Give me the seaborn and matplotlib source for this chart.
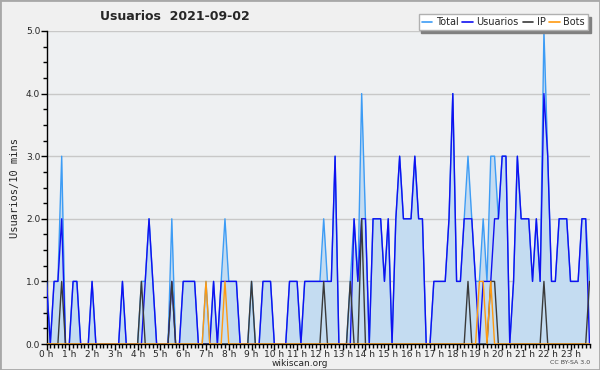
import pandas as pd
import matplotlib
matplotlib.use("Agg")
import matplotlib.pyplot as plt
import seaborn as sns
from matplotlib.ticker import MultipleLocator, FixedLocator, FormatStrFormatter
from matplotlib.patches import Rectangle

# ================= datos (intervalos de 10 min) =================
hour_labels = [f"{h} h" for h in range(24)]

total = [
    1, 0, 1, 1, 3, 0, 0, 1, 1, 0, 0, 0,
    1, 0, 0, 0, 0, 0, 0, 0, 1, 0, 0, 0,
    0, 1, 1, 2, 1, 0, 0, 0, 0, 2, 0, 0,
    1, 1, 1, 1, 0, 0, 1, 0, 1, 0, 1, 2,
    1, 1, 1, 0, 0, 0, 1, 0, 0, 1, 1, 1,
    0, 0, 0, 0, 1, 1, 1, 0, 1, 1, 1, 1,
    1, 2, 1, 1, 3, 0, 0, 0, 1, 2, 1, 4,
    2, 0, 2, 2, 2, 1, 2, 0, 2, 3, 2, 2,
    2, 3, 2, 2, 0, 0, 1, 1, 1, 1, 2, 4,
    1, 1, 2, 3, 2, 1, 1, 2, 1, 3, 3, 2,
    3, 3, 0, 1, 3, 2, 2, 2, 1, 2, 1, 5,
    3, 1, 1, 2, 2, 2, 1, 1, 1, 2, 2, 1,
]

usuarios = [
    1, 0, 1, 1, 2, 0, 0, 1, 1, 0, 0, 0,
    1, 0, 0, 0, 0, 0, 0, 0, 1, 0, 0, 0,
    0, 0, 1, 2, 1, 0, 0, 0, 0, 1, 0, 0,
    1, 1, 1, 1, 0, 0, 0, 0, 1, 0, 1, 1,
    1, 1, 1, 0, 0, 0, 0, 0, 0, 1, 1, 1,
    0, 0, 0, 0, 1, 1, 1, 0, 1, 1, 1, 1,
    1, 1, 1, 1, 3, 0, 0, 0, 0, 2, 1, 2,
    2, 0, 2, 2, 2, 1, 2, 0, 2, 3, 2, 2,
    2, 3, 2, 2, 0, 0, 1, 1, 1, 1, 2, 4,
    1, 1, 2, 2, 2, 1, 0, 1, 1, 1, 2, 2,
    3, 3, 0, 1, 3, 2, 2, 2, 1, 2, 1, 4,
    3, 1, 1, 2, 2, 2, 1, 1, 1, 2, 2, 0,
]

ip = [
    0, 0, 0, 0, 1, 0, 0, 0, 0, 0, 0, 0,
    0, 0, 0, 0, 0, 0, 0, 0, 0, 0, 0, 0,
    0, 1, 0, 0, 0, 0, 0, 0, 0, 1, 0, 0,
    0, 0, 0, 0, 0, 0, 0, 0, 0, 0, 0, 0,
    0, 0, 0, 0, 0, 0, 1, 0, 0, 0, 0, 0,
    0, 0, 0, 0, 0, 0, 0, 0, 0, 0, 0, 0,
    0, 1, 0, 0, 0, 0, 0, 0, 1, 0, 0, 2,
    0, 0, 0, 0, 0, 0, 0, 0, 0, 0, 0, 0,
    0, 0, 0, 0, 0, 0, 0, 0, 0, 0, 0, 0,
    0, 0, 0, 1, 0, 0, 0, 0, 0, 1, 1, 0,
    0, 0, 0, 0, 0, 0, 0, 0, 0, 0, 0, 1,
    0, 0, 0, 0, 0, 0, 0, 0, 0, 0, 0, 1,
]

bots = [
    0, 0, 0, 0, 0, 0, 0, 0, 0, 0, 0, 0,
    0, 0, 0, 0, 0, 0, 0, 0, 0, 0, 0, 0,
    0, 0, 0, 0, 0, 0, 0, 0, 0, 0, 0, 0,
    0, 0, 0, 0, 0, 0, 1, 0, 0, 0, 0, 1,
    0, 0, 0, 0, 0, 0, 0, 0, 0, 0, 0, 0,
    0, 0, 0, 0, 0, 0, 0, 0, 0, 0, 0, 0,
    0, 0, 0, 0, 0, 0, 0, 0, 0, 0, 0, 0,
    0, 0, 0, 0, 0, 0, 0, 0, 0, 0, 0, 0,
    0, 0, 0, 0, 0, 0, 0, 0, 0, 0, 0, 0,
    0, 0, 0, 0, 0, 0, 1, 1, 0, 1, 0, 0,
    0, 0, 0, 0, 0, 0, 0, 0, 0, 0, 0, 0,
    0, 0, 0, 0, 0, 0, 0, 0, 0, 0, 0, 0,
]

COLORS = {"Total": "#3d9cf5", "Usuarios": "#1010f0", "IP": "#3a3a3a", "Bots": "#ff9a10"}
FILL = "#c4dcf1"

# ================= estilo =================
sns.set_theme(style="white")
plt.rcParams["font.family"] = ["DejaVu Sans"]

df = pd.DataFrame({"slot": range(len(total)), "Total": total,
                   "Usuarios": usuarios, "IP": ip, "Bots": bots})
long = df.melt(id_vars="slot", var_name="serie", value_name="n")

fig = plt.figure(figsize=(6, 3.7), dpi=100, facecolor="#f0f0f0")
ax = fig.add_axes([46.5 / 600, 1 - 344 / 370, (589.5 - 46.5) / 600, (344 - 31) / 370])
ax.set_facecolor("#eef0f2")

ax.fill_between(df["slot"], df["Total"], 0, color=FILL, linewidth=0, zorder=1)
sns.lineplot(data=long, x="slot", y="n", hue="serie", palette=COLORS,
             hue_order=["Total", "Usuarios", "IP", "Bots"],
             linewidth=1.0, ax=ax, legend=False, zorder=3)

ax.set_xlim(0, len(total) - 1)
ax.set_ylim(0, 5)

# ejes y marcas
ax.xaxis.set_major_locator(FixedLocator(range(0, 144, 6)))
ax.xaxis.set_minor_locator(MultipleLocator(1))
ax.set_xticklabels(hour_labels)
ax.yaxis.set_major_locator(MultipleLocator(1))
ax.yaxis.set_minor_locator(MultipleLocator(0.25))
ax.yaxis.set_major_formatter(FormatStrFormatter("%.1f"))
ax.tick_params(axis="both", which="major", direction="out", length=4, width=1,
               color="black", labelsize=6.5, pad=0.5, left=True, bottom=True)
ax.tick_params(axis="both", which="minor", direction="out", length=3, width=1,
               color="black", left=True, bottom=True)
ax.grid(axis="y", color="#c8c8c8", linewidth=1)
ax.set_axisbelow(True)
for s in ["top", "right"]:
    ax.spines[s].set_visible(False)
for s in ["left", "bottom"]:
    ax.spines[s].set_color("black")
    ax.spines[s].set_linewidth(1)

ax.set_xlabel("")
ax.set_ylabel("Usuarios/10 mins", family="DejaVu Sans Mono", fontsize=7.5, labelpad=4)

# leyenda
handles = [plt.Line2D([], [], color=COLORS[k], linewidth=1.2) for k in COLORS]
leg = fig.legend(handles, list(COLORS), loc="upper right", ncol=4,
                 bbox_to_anchor=(588 / 600, 1 - 14 / 370), fontsize=7,
                 handlelength=1.1, handletextpad=0.35, columnspacing=0.4,
                 borderpad=0.3, borderaxespad=0, fancybox=False, framealpha=1,
                 edgecolor="#b0b0b0", shadow={"color": "#808080", "alpha": 1})
leg.get_frame().set_linewidth(1)

fig.text(100 / 600, 1 - 17 / 370, "Usuarios  2021-09-02", fontsize=9,
         fontweight="bold", va="center", ha="left")
fig.text(300 / 600, 1 - 363 / 370, "wikiscan.org", fontsize=6.5, ha="center", va="center")
fig.text(590 / 600, 1 - 363 / 370, "CC BY-SA 3.0", fontsize=4.5, ha="right",
         va="center", color="#444444")

fig.patches.append(Rectangle((0, 0), 1, 1, transform=fig.transFigure, fill=False,
                             edgecolor="#a8a8a8", linewidth=2))

fig.savefig("out.png", dpi=100, facecolor=fig.get_facecolor())
